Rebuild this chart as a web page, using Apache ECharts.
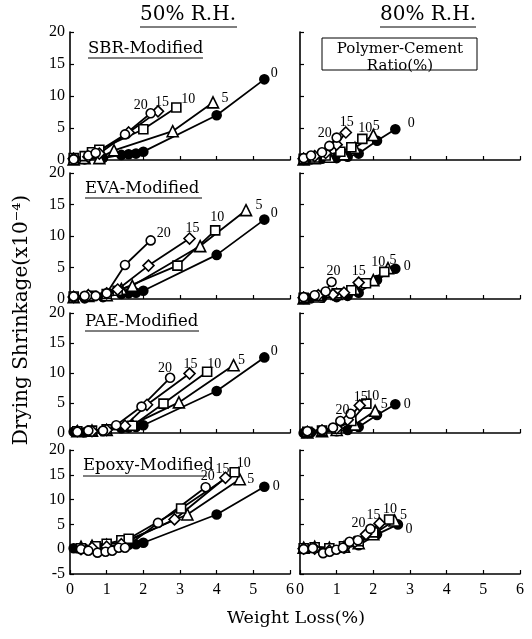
<!DOCTYPE html>
<html>
<head>
<meta charset="utf-8">
<script src="https://cdn.jsdelivr.net/npm/echarts@6/dist/echarts.min.js"></script>
<style>
  html, body { margin: 0; padding: 0; background: #fff; }
  #chart { width: 532px; height: 639px; }
</style>
</head>
<body>
<div id="chart"></div>
<script>
// polymer-cement ratio (%) of each series, in drawing order
const ratios = ['0', '5', '10', '15', '20'];
const xTicks = { min: 0, max: 6, step: 1 };
const yTicks = { min: 0, minEpoxy: -5, max: 20, step: 5 };

// unmodified mortar (ratio 0), same curve in every panel
const plain50 = [[0.1, 0.2], [0.4, 0.1], [0.9, 0.3], [1.4, 0.8], [1.6, 0.9], [1.8, 1.0], [2.0, 1.3], [4.0, 7.0], [5.3, 12.6]];
const plain80 = [[0.1, 0.0], [0.3, 0.1], [0.6, 0.2], [1.0, 0.3], [1.3, 0.5], [1.6, 1.0], [2.1, 3.0], [2.6, 4.8]];

// [weight loss %, drying shrinkage x10^-4] for ratios 0, 5, 10, 15, 20
const sbr50 = [plain50,
  [[0.1, 0.1], [0.4, 0.3], [0.8, 0.3], [1.2, 1.5], [2.8, 4.5], [3.9, 9.0]],
  [[0.1, 0.3], [0.4, 0.6], [0.6, 1.2], [0.8, 1.6], [2.0, 4.8], [2.9, 8.2]],
  [[0.1, 0.2], [0.5, 0.5], [0.8, 1.0], [1.6, 4.3], [2.4, 7.6]],
  [[0.1, 0.1], [0.5, 0.7], [0.7, 1.1], [1.5, 4.0], [2.2, 7.3]]];
const sbr80 = [plain80,
  [[0.1, 0.1], [0.4, 0.3], [0.8, 0.5], [1.2, 0.9], [1.5, 1.9], [2.0, 3.9]],
  [[0.1, 0.2], [0.4, 0.4], [0.7, 0.7], [1.1, 1.3], [1.4, 2.0], [1.7, 3.3]],
  [[0.1, 0.2], [0.4, 0.6], [0.7, 1.1], [1.0, 2.4], [1.25, 4.3]],
  [[0.1, 0.3], [0.3, 0.7], [0.6, 1.2], [0.8, 2.2], [1.0, 3.5]]];

const eva50 = [plain50,
  [[0.1, 0.3], [0.5, 0.5], [1.0, 0.6], [1.4, 1.6], [1.7, 2.1], [3.55, 8.4], [4.8, 14.1]],
  [[0.1, 0.4], [0.6, 0.5], [1.0, 0.8], [1.3, 1.3], [2.93, 5.3], [3.96, 10.9]],
  [[0.1, 0.3], [0.5, 0.6], [1.0, 0.9], [1.3, 1.5], [2.14, 5.3], [3.26, 9.6]],
  [[0.1, 0.4], [0.4, 0.5], [0.7, 0.5], [1.0, 0.9], [1.5, 5.4], [2.2, 9.3]]];
const eva80 = [plain80,
  [[0.1, 0.1], [0.5, 0.4], [1.0, 0.8], [1.5, 1.6], [2.0, 3.0], [2.4, 4.9]],
  [[0.1, 0.2], [0.5, 0.5], [1.0, 0.9], [1.4, 1.4], [1.8, 2.5], [2.3, 4.3]],
  [[0.1, 0.2], [0.5, 0.6], [0.9, 0.7], [1.2, 1.0], [1.6, 2.6]],
  [[0.1, 0.3], [0.4, 0.6], [0.7, 1.2], [0.86, 2.7]]];

const pae50 = [plain50,
  [[0.2, 0.3], [0.6, 0.4], [1.0, 0.5], [1.7, 1.4], [2.97, 5.1], [4.46, 11.3]],
  [[0.2, 0.3], [0.6, 0.4], [1.0, 0.6], [1.7, 1.2], [2.55, 4.9], [3.74, 10.2]],
  [[0.2, 0.3], [0.6, 0.3], [1.0, 0.5], [1.5, 1.2], [2.1, 4.7], [3.26, 9.9]],
  [[0.2, 0.2], [0.5, 0.4], [0.9, 0.4], [1.26, 1.3], [1.95, 4.4], [2.73, 9.2]]];
const pae80 = [plain80,
  [[0.2, 0.1], [0.6, 0.3], [1.0, 0.5], [1.5, 1.4], [2.05, 3.7]],
  [[0.2, 0.2], [0.6, 0.4], [1.0, 0.7], [1.4, 2.0], [1.81, 4.9]],
  [[0.2, 0.2], [0.6, 0.4], [1.0, 0.8], [1.3, 2.2], [1.63, 4.6]],
  [[0.2, 0.3], [0.6, 0.5], [0.9, 0.9], [1.1, 2.0], [1.38, 3.2]]];

const epoxy50 = [plain50,
  [[0.3, 0.5], [0.6, 0.7], [1.0, 0.9], [1.5, 1.6], [3.2, 7.0], [4.63, 14.1]],
  [[0.3, 0.2], [0.7, 0.6], [1.0, 1.1], [1.4, 1.8], [1.6, 2.1], [3.03, 8.2], [4.49, 15.5]],
  [[0.3, 0.0], [0.6, 0.3], [1.0, 0.5], [1.4, 1.0], [2.85, 6.0], [4.24, 14.4]],
  [[0.3, 0.0], [0.5, -0.3], [0.75, -0.7], [0.97, -0.5], [1.15, -0.3], [1.33, 0.3], [1.5, 0.3], [2.4, 5.3], [3.7, 12.5]]];
const epoxy80 = [[[0.1, 0.2], [0.4, 0.3], [0.8, 0.1], [1.2, 0.2], [1.6, 0.8], [2.1, 3.0], [2.67, 5.0]],
  [[0.1, 0.3], [0.4, 0.5], [0.8, 0.3], [1.2, 0.5], [1.6, 1.2], [2.0, 3.0], [2.58, 5.8]],
  [[0.1, 0.2], [0.4, 0.4], [0.8, 0.2], [1.2, 0.6], [1.6, 1.6], [2.0, 3.4], [2.43, 6.0]],
  [[0.1, 0.1], [0.4, 0.1], [0.8, -0.3], [1.2, 0.3], [1.5, 1.5], [1.8, 3.0], [2.17, 5.2]],
  [[0.1, 0.0], [0.35, 0.2], [0.63, -0.8], [0.81, -0.5], [0.99, -0.1], [1.17, 0.3], [1.35, 1.5], [1.58, 1.8], [1.92, 4.1]]];

const panelNames = ['SBR-Modified', 'EVA-Modified', 'PAE-Modified', 'Epoxy-Modified'];
const panelData = [[sbr50, sbr80], [eva50, eva80], [pae50, pae80], [epoxy50, epoxy80]];

// where the ratio label sits relative to the last point, px [dx, dy]
const labelOffsets = [
  [[[10, -6], [12, -4], [12, -8], [4, -9], [-10, -8]],
   [[16, -6], [3, -9], [3, -11], [1, -10], [-12, -4]]],
  [[[10, -6], [13, -5], [2, -13], [3, -10], [13, -7]],
   [[12, -2], [5, -8], [-6, -10], [0, -11], [2, -11]]],
  [[[10, -6], [8, -5], [7, -7], [1, -9], [-5, -9]],
   [[12, 0], [9, -6], [6, -7], [1, -8], [-8, -3]]],
  [[[12, 0], [11, 0], [9, -9], [-3, -8], [2, -11]],
   [[11, 5], [9, -5], [1, -10], [-6, -8], [-12, -6]]]
];

const rowTop = [32, 173, 313, 450];
const rowH = [128, 126, 120, 124];
const colLeft = [70, 300];
const colW = 220;
const digitFont = 'Liberation Serif';
const textFont = 'DejaVu Serif';

const symbols = ['circle', 'triangle', 'rect', 'diamond', 'circle'];
const symbolSizes = [9, 11, 9, 11, 9];
const fills = ['#000', '#fff', '#fff', '#fff', '#fff'];

const grids = [], xAxes = [], yAxes = [], series = [];
panelData.forEach((row, r) => {
  row.forEach((sets, c) => {
    const k = grids.length;
    grids.push({ left: colLeft[c], top: rowTop[r], width: colW, height: rowH[r] });
    xAxes.push({
      gridIndex: k, type: 'value', min: xTicks.min, max: xTicks.max, interval: xTicks.step,
      axisLine: { onZero: false, lineStyle: { color: '#000', width: 1.6 } },
      axisTick: { inside: true, length: 4, lineStyle: { color: '#000', width: 1.2 } },
      axisLabel: { show: r === 3, color: '#000', fontFamily: digitFont, fontSize: 16, margin: 8 },
      splitLine: { show: false }
    });
    yAxes.push({
      gridIndex: k, type: 'value', min: r === 3 ? yTicks.minEpoxy : yTicks.min, max: yTicks.max, interval: yTicks.step,
      axisLine: { show: true, onZero: false, lineStyle: { color: '#000', width: 1.6 } },
      axisTick: { show: true, inside: true, length: 4, lineStyle: { color: '#000', width: 1.2 } },
      axisLabel: { show: c === 0, color: '#000', fontFamily: digitFont, fontSize: 16, margin: 5 },
      splitLine: { show: false }
    });
    sets.forEach((pts, i) => {
      const last = pts.length - 1;
      series.push({
        type: 'line', xAxisIndex: k, yAxisIndex: k,
        data: pts.map((p, j) => j === last
          ? { value: p, label: { show: true, offset: labelOffsets[r][c][i] } }
          : p),
        symbol: symbols[i], symbolSize: symbolSizes[i], showAllSymbol: true,
        itemStyle: { color: fills[i], borderColor: '#000', borderWidth: 1.6 },
        lineStyle: { color: '#000', width: 1.8 },
        label: {
          show: false, position: 'inside', formatter: ratios[i],
          color: '#000', fontFamily: digitFont, fontSize: 14
        },
        emphasis: { disabled: true },
        silent: true
      });
    });
  });
});

const txt = (text, x, y, size, align, rot) => ({
  type: 'text', x, y, rotation: rot || 0,
  style: { text, fill: '#000', font: size + 'px "' + textFont + '"', textAlign: align, textVerticalAlign: 'middle' }
});
const rule = (x1, y, x2) => ({
  type: 'line', shape: { x1, y1: y, x2, y2: y }, style: { stroke: '#000', lineWidth: 1 }
});

const graphics = [
  txt('50% R.H.', 188, 15, 20, 'center'), rule(140, 27, 237),
  txt('80% R.H.', 428, 15, 20, 'center'), rule(380, 27, 476),
  txt(panelNames[0], 88, 49, 16.5, 'left'), rule(88, 58, 203),
  txt(panelNames[1], 85, 189, 16.5, 'left'), rule(85, 198, 202),
  txt(panelNames[2], 85, 322, 16.5, 'left'), rule(85, 331, 199),
  txt(panelNames[3], 83, 466, 16.5, 'left'), rule(83, 476, 207),
  { type: 'rect', shape: { x: 322, y: 38, width: 155, height: 32 }, style: { fill: 'none', stroke: '#000', lineWidth: 1 } },
  txt('Polymer-Cement', 400, 49, 15, 'center'),
  txt('Ratio(%)', 400, 66, 15, 'center'),
  txt('Weight Loss(%)', 296, 618, 17.5, 'center'),
  txt('Drying Shrinkage(x10⁻⁴)', 22, 320, 20, 'center', Math.PI / 2)
];

const chart = echarts.init(document.getElementById('chart'), null, { renderer: 'canvas' });
chart.setOption({
  animation: false,
  backgroundColor: '#fff',
  grid: grids,
  xAxis: xAxes,
  yAxis: yAxes,
  series: series,
  graphic: graphics
});
</script>
</body>
</html>
